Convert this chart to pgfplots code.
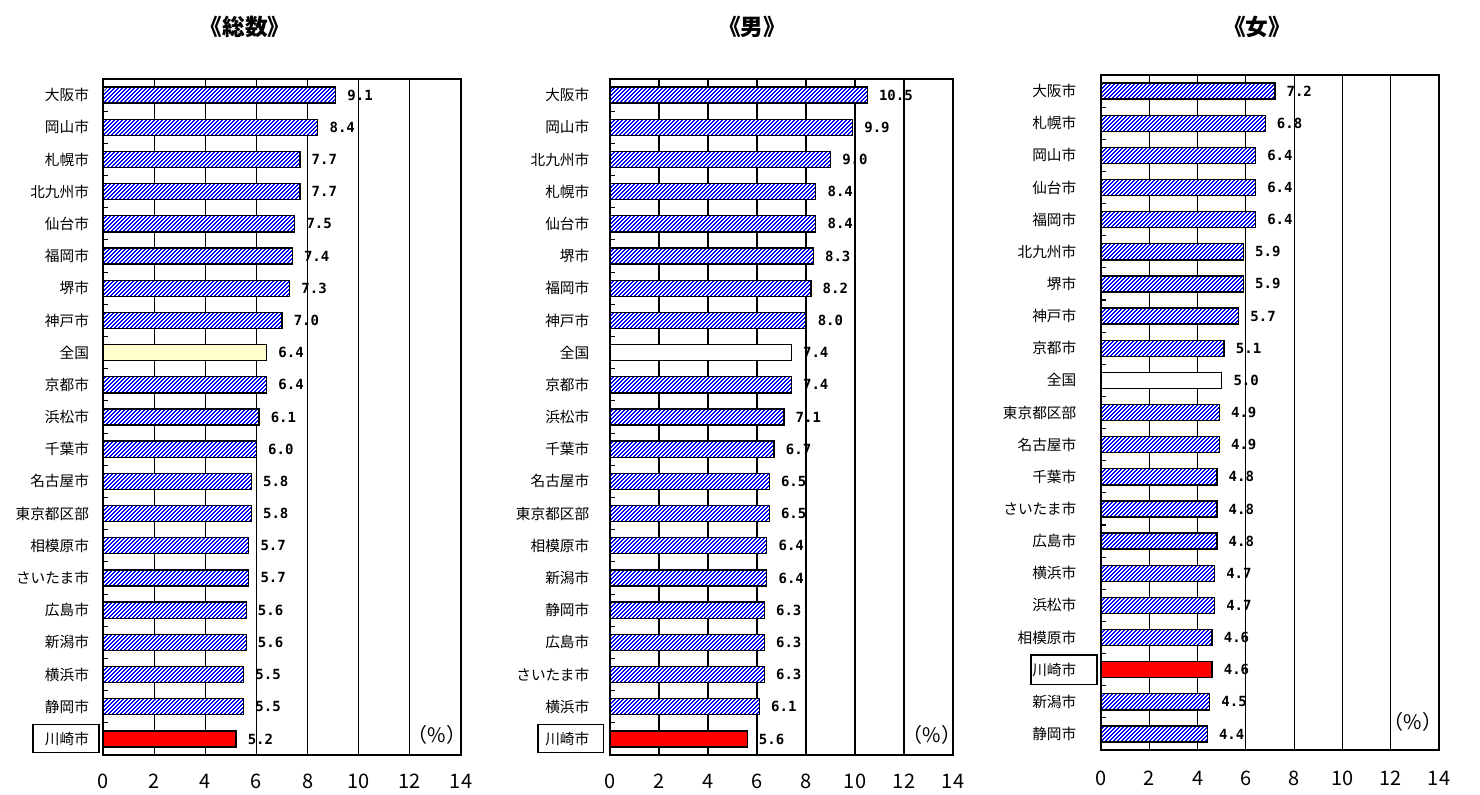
\documentclass[border=0pt]{standalone}
\usepackage{fontspec}
\setmainfont{Noto Sans CJK JP}
\newfontfamily\valfont{DejaVu Sans Mono}
\usepackage{pgfplots}
\pgfplotsset{compat=1.18}
\usetikzlibrary{patterns.meta}
\pgfplotsset{
 panel/.style={
  scale only axis, anchor=south west, clip=false,
  xmin=0,xmax=14, ymin=-0.5, ymax=20.5, y dir=reverse,
  xtick={0,2,...,14}, ytick={0,...,20}, minor ytick={0.5,1.5,...,19.5},
  major tick length=0pt, minor tick length=4pt, ytick pos=left, xtick pos=bottom,
  xmajorgrids, major grid style={black, line width=0.8pt},
  axis line style={line width=1.2pt},
  tick style={black, line width=0.8pt},
  /pgf/number format/assume math mode=true,
  xticklabel style={font=\fontsize{15}{15}\selectfont, anchor=center, yshift=-20pt},
  yticklabel style={font=\fontsize{11}{11}\selectfont, xshift=-7pt},
  point meta=x,
  nodes near coords={\pgfmathprintnumber[fixed,fixed zerofill,precision=1]{\pgfplotspointmeta}},
  nodes near coords style={font=\valfont\bfseries\fontsize{10.5}{10.5}\selectfont, anchor=west, xshift=5pt, text=black},
 },
 hatched/.style={xbar, bar shift=0pt, bar width=0.5, draw=black, line width=1pt,
   preaction={fill=white}, pattern={Lines[angle=45,distance=2.1213pt,line width=0.8pt]}, pattern color=blue},
 natY/.style={xbar, bar shift=0pt, bar width=0.5, draw=black, line width=1pt,
   preaction={fill=yellow!12}, pattern={Lines[angle=45,distance=2.1213pt,line width=0.8pt]}, pattern color=yellow!28},
 natW/.style={xbar, bar shift=0pt, bar width=0.5, draw=black, line width=1pt, fill=white},
 kawa/.style={xbar, bar shift=0pt, bar width=0.5, draw=black, line width=1pt, fill=red},
}
\begin{document}
\begin{tikzpicture}
\useasboundingbox (0,0) rectangle (1110pt,595.5pt);
\node[font=\fontsize{17}{17}\selectfont\bfseries] at (183.75pt,575.25pt) {《総数》};
\node[font=\fontsize{17}{17}\selectfont\bfseries] at (564pt,575.25pt) {《男》};
\node[font=\fontsize{17}{17}\selectfont\bfseries] at (942.75pt,575.25pt) {《女》};
% Panel 1
\begin{axis}[panel, at={(77.25pt,29.25pt)}, width=268.5pt, height=507pt,
  yticklabels={大阪市,岡山市,札幌市,北九州市,仙台市,福岡市,堺市,神戸市,全国,京都市,浜松市,千葉市,名古屋市,東京都区部,相模原市,さいたま市,広島市,新潟市,横浜市,静岡市,川崎市}]
\addplot[hatched] coordinates {(9.1,0) (8.4,1) (7.7,2) (7.7,3) (7.5,4) (7.4,5) (7.3,6) (7.0,7) (6.4,9) (6.1,10) (6.0,11) (5.8,12) (5.8,13) (5.7,14) (5.7,15) (5.6,16) (5.6,17) (5.5,18) (5.5,19)};
\addplot[natY] coordinates {(6.4,8)};
\addplot[kawa] coordinates {(5.2,20)};
\draw[line width=0.8pt] ([xshift=-3pt,yshift=10.5pt]axis cs:0,20) rectangle ([xshift=-52.5pt,yshift=-10.5pt]axis cs:0,20);
\end{axis}
\node[font=\fontsize{15}{15}\selectfont] at (327.75pt,44.25pt) {（\%）};
% Panel 2
\begin{axis}[panel, at={(457.5pt,29.25pt)}, width=257.25pt, height=507pt,
  yticklabel style={xshift=-5pt},
  yticklabels={大阪市,岡山市,北九州市,札幌市,仙台市,堺市,福岡市,神戸市,全国,京都市,浜松市,千葉市,名古屋市,東京都区部,相模原市,新潟市,静岡市,広島市,さいたま市,横浜市,川崎市}]
\addplot[hatched] coordinates {(10.5,0) (9.9,1) (9.0,2) (8.4,3) (8.4,4) (8.3,5) (8.2,6) (8.0,7) (7.4,9) (7.1,10) (6.7,11) (6.5,12) (6.5,13) (6.4,14) (6.4,15) (6.3,16) (6.3,17) (6.3,18) (6.1,19)};
\addplot[natW] coordinates {(7.4,8)};
\addplot[kawa] coordinates {(5.6,20)};
\draw[line width=0.8pt] ([xshift=-5pt,yshift=10.5pt]axis cs:0,20) rectangle ([xshift=-54pt,yshift=-10.5pt]axis cs:0,20);
\end{axis}
\node[font=\fontsize{15}{15}\selectfont] at (699pt,44.25pt) {（\%）};
% Panel 3
\begin{axis}[panel, at={(825.75pt,33pt)}, width=253.5pt, height=506.25pt,
  yticklabel style={xshift=-8pt}, xticklabel style={yshift=-1pt},
  yticklabels={大阪市,札幌市,岡山市,仙台市,福岡市,北九州市,堺市,神戸市,京都市,全国,東京都区部,名古屋市,千葉市,さいたま市,広島市,横浜市,浜松市,相模原市,川崎市,新潟市,静岡市}]
\addplot[hatched] coordinates {(7.2,0) (6.8,1) (6.4,2) (6.4,3) (6.4,4) (5.9,5) (5.9,6) (5.7,7) (5.1,8) (4.9,10) (4.9,11) (4.8,12) (4.8,13) (4.8,14) (4.7,15) (4.7,16) (4.6,17) (4.5,19) (4.4,20)};
\addplot[natW] coordinates {(5.0,9)};
\addplot[kawa] coordinates {(4.6,18)};
\draw[line width=0.8pt] ([xshift=-3pt,yshift=11pt]axis cs:0,18) rectangle ([xshift=-52.5pt,yshift=-11pt]axis cs:0,18);
\end{axis}
\node[font=\fontsize{15}{15}\selectfont] at (1059.75pt,54pt) {（\%）};
\end{tikzpicture}
\end{document}
